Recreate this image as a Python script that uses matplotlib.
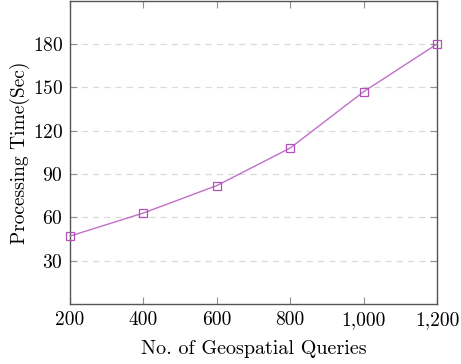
import matplotlib
matplotlib.use('Agg')
import matplotlib.pyplot as plt
from matplotlib.ticker import FuncFormatter

queries = [200, 400, 600, 800, 1000, 1200]
proc_time = [47, 63, 82, 108, 147, 180]
y_ticks = [30, 60, 90, 120, 150, 180]

plt.rcParams['font.family'] = 'serif'
plt.rcParams['font.serif'] = ['cmr10', 'DejaVu Serif']
plt.rcParams['mathtext.fontset'] = 'cm'
plt.rcParams['axes.formatter.use_mathtext'] = True

fig = plt.figure(figsize=(4.61, 3.64), dpi=100)
ax = fig.add_axes([0.152, 0.165, 0.796, 0.833])

ax.plot(queries, proc_time, color='#c070c8', lw=1.0, marker='s', ms=6,
        mfc='none', mec='#b050b8', mew=0.9, clip_on=False, zorder=3)

ax.set_xlim(200, 1200)
ax.set_ylim(0, 210)
ax.set_xticks(queries)
ax.set_yticks(y_ticks)
ax.xaxis.set_major_formatter(FuncFormatter(lambda v, p: f"{v:,.0f}"))
ax.grid(axis='y', color='#dadada', ls=(0, (5, 4)), lw=0.9)
ax.tick_params(direction='in', length=5, color='#909090', labelsize=14,
               top=True, right=True, pad=5)
for s in ax.spines.values():
    s.set_color('#555555')
    s.set_linewidth(1.0)

ax.set_xlabel('No. of Geospatial Queries', fontsize=14.5, labelpad=8)
ax.set_ylabel('Processing Time(Sec)', fontsize=14, labelpad=2)

plt.savefig('out.png', dpi=100)
